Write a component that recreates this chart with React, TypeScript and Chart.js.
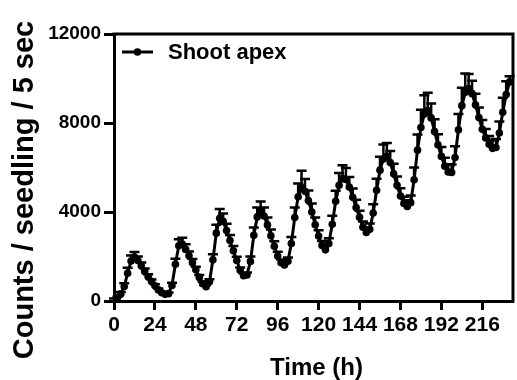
import React, { useEffect, useRef } from "react";
import { Chart, registerables } from "chart.js";

Chart.register(...registerables);

const seriesLabel = "Shoot apex";
const xTitle = "Time (h)";
const yTitle = "Counts / seedling / 5 sec";

const xTickValues = [0, 24, 48, 72, 96, 120, 144, 168, 192, 216];
const yTickValues = [0, 4000, 8000, 12000];

const times = [
  0, 2, 4, 6, 8, 10, 12, 14, 16, 18, 20, 22, 24, 26, 28, 30, 32, 34, 36, 38,
  40, 42, 44, 46, 48, 50, 52, 54, 56, 58, 60, 62, 64, 66, 68, 70, 72, 74, 76, 78,
  80, 82, 84, 86, 88, 90, 92, 94, 96, 98, 100, 102, 104, 106, 108, 110, 112, 114, 116, 118,
  120, 122, 124, 126, 128, 130, 132, 134, 136, 138, 140, 142, 144, 146, 148, 150, 152, 154, 156, 158,
  160, 162, 164, 166, 168, 170, 172, 174, 176, 178, 180, 182, 184, 186, 188, 190, 192, 194, 196, 198,
  200, 202, 204, 206, 208, 210, 212, 214, 216, 218, 220, 222, 224, 226, 228, 230, 232,
];

const counts = [
  80, 150, 320, 650, 1250, 1800, 1980, 1820, 1580, 1330, 1090, 880, 680, 500, 370, 300, 330, 700, 1650, 2480,
  2560, 2320, 2030, 1720, 1400, 1060, 780, 640, 860, 1850, 3050, 3720, 3580, 3170, 2720, 2260, 1820, 1380, 1140, 1170,
  1780, 2950, 3780, 4030, 3820, 3420, 2930, 2460, 2020, 1720, 1620, 1790, 2580, 3750, 4680, 5100, 4930, 4520, 4000, 3430,
  2920, 2500, 2300, 2580, 3450, 4480, 5200, 5500, 5460, 5120, 4660, 4200, 3760, 3320, 3080, 3220, 3950, 4980, 5880, 6380,
  6500, 6220, 5720, 5200, 4720, 4380, 4250, 4420, 5450, 6780, 7800, 8400, 8560, 8230, 7620, 7020, 6500, 6060, 5800, 5780,
  6450, 7700, 8780, 9380, 9550, 9320, 8820, 8250, 7720, 7330, 7040, 6860, 6900, 7550, 8480, 9280, 9850,
];

const sem = [
  30, 40, 80, 150, 250, 250, 220, 180, 150, 130, 110, 90, 70, 60, 50, 40, 50, 120, 250, 300,
  280, 230, 200, 170, 140, 110, 80, 70, 120, 250, 380, 420, 350, 300, 250, 210, 170, 130, 100, 110,
  220, 350, 420, 440, 380, 330, 280, 230, 190, 150, 130, 170, 300, 450, 600, 750, 550, 450, 380, 320,
  260, 200, 180, 240, 380, 480, 550, 600, 520, 450, 400, 350, 300, 250, 220, 260, 400, 520, 600, 650,
  600, 520, 450, 400, 350, 300, 280, 320, 550, 700, 800, 850, 800, 650, 550, 480, 420, 380, 350, 350,
  500, 700, 800, 850, 650, 580, 500, 450, 420, 400, 380, 360, 380, 520, 650, 600, 250,
];

const FONT = "'Liberation Sans', Arial, sans-serif";

const decorations = {
  id: "decorations",
  afterDatasetsDraw(chart: any) {
    const { ctx, scales } = chart;
    const xs = scales.x;
    const ys = scales.y;
    ctx.save();
    ctx.strokeStyle = "#000";
    ctx.lineWidth = 2.5;
    ctx.beginPath();
    for (let i = 0; i < times.length; i++) {
      const x = xs.getPixelForValue(times[i]);
      const y0 = ys.getPixelForValue(counts[i]);
      const y1 = ys.getPixelForValue(counts[i] + sem[i]);
      ctx.moveTo(x, y0);
      ctx.lineTo(x, y1);
      ctx.moveTo(x - 5, y1);
      ctx.lineTo(x + 5, y1);
    }
    ctx.stroke();
    ctx.restore();
  },
  afterDraw(chart: any) {
    const { ctx, chartArea } = chart;
    ctx.save();
    ctx.strokeStyle = "#000";
    ctx.lineWidth = 3;
    ctx.beginPath();
    ctx.moveTo(chartArea.left - 1.5, chartArea.top);
    ctx.lineTo(chartArea.right, chartArea.top);
    ctx.lineTo(chartArea.right, chartArea.bottom + 1.5);
    ctx.stroke();

    const ly = chartArea.top + 18;
    const lx = chartArea.left + 8;
    ctx.lineWidth = 3;
    ctx.beginPath();
    ctx.moveTo(lx, ly);
    ctx.lineTo(lx + 31, ly);
    ctx.stroke();
    ctx.fillStyle = "#000";
    ctx.beginPath();
    ctx.arc(lx + 15.5, ly, 3.8, 0, Math.PI * 2);
    ctx.fill();
    ctx.font = `bold 22px ${FONT}`;
    ctx.textAlign = "left";
    ctx.textBaseline = "alphabetic";
    ctx.fillText(seriesLabel, lx + 46, ly + 7);

    ctx.font = `bold 24px ${FONT}`;
    ctx.textAlign = "center";
    ctx.fillText(xTitle, (chartArea.left + chartArea.right) / 2 + 3, 375);

    ctx.translate(33, 190);
    ctx.rotate(-Math.PI / 2);
    ctx.font = `bold 29px ${FONT}`;
    ctx.textAlign = "center";
    ctx.fillText(yTitle, 0, 0);
    ctx.restore();
  },
};

export default function App() {
  const canvasRef = useRef<HTMLCanvasElement | null>(null);

  useEffect(() => {
    if (!canvasRef.current) return;
    const chart = new Chart(canvasRef.current, {
      type: "line",
      data: {
        datasets: [
          {
            label: seriesLabel,
            data: times.map((t, i) => ({ x: t, y: counts[i] })),
            borderColor: "#000",
            backgroundColor: "#000",
            borderWidth: 3,
            pointRadius: 3.8,
            pointBorderWidth: 0,
            pointBackgroundColor: "#000",
            tension: 0,
          },
        ],
      },
      options: {
        responsive: false,
        animation: false,
        devicePixelRatio: 1,
        layout: { padding: { top: 34, right: 2, left: 0, bottom: 0 } },
        plugins: {
          legend: { display: false },
          tooltip: { enabled: false },
        },
        scales: {
          x: {
            type: "linear",
            min: 0,
            max: 234,
            afterBuildTicks: (scale: any) => {
              scale.ticks = xTickValues.map((v) => ({ value: v }));
            },
            afterFit: (scale: any) => {
              scale.height = 79;
            },
            ticks: {
              autoSkip: false,
              maxRotation: 0,
              minRotation: 0,
              includeBounds: false,
              padding: 3,
              color: "#000",
              font: { family: FONT, size: 21, weight: "bold" },
              callback: (v: any) => String(v),
            },
            grid: {
              display: true,
              drawOnChartArea: false,
              drawTicks: true,
              tickLength: 9,
              tickColor: "#000",
              tickWidth: 3,
            },
            border: { display: true, color: "#000", width: 3 },
          },
          y: {
            type: "linear",
            min: 0,
            max: 12000,
            afterBuildTicks: (scale: any) => {
              scale.ticks = yTickValues.map((v) => ({ value: v }));
            },
            afterFit: (scale: any) => {
              scale.width = 114;
            },
            ticks: {
              padding: 3,
              color: "#000",
              font: { family: FONT, size: 19, weight: "bold" },
              callback: (v: any) => String(v),
            },
            grid: {
              display: true,
              drawOnChartArea: false,
              drawTicks: true,
              tickLength: 10,
              tickColor: "#000",
              tickWidth: 3,
            },
            border: { display: true, color: "#000", width: 3 },
          },
        },
      },
      plugins: [decorations],
    });
    return () => chart.destroy();
  }, []);

  return (
    <div style={{ position: "fixed", left: 0, top: 0, width: 517, height: 380, background: "#fff" }}>
      <canvas ref={canvasRef} width={517} height={380} />
    </div>
  );
}
